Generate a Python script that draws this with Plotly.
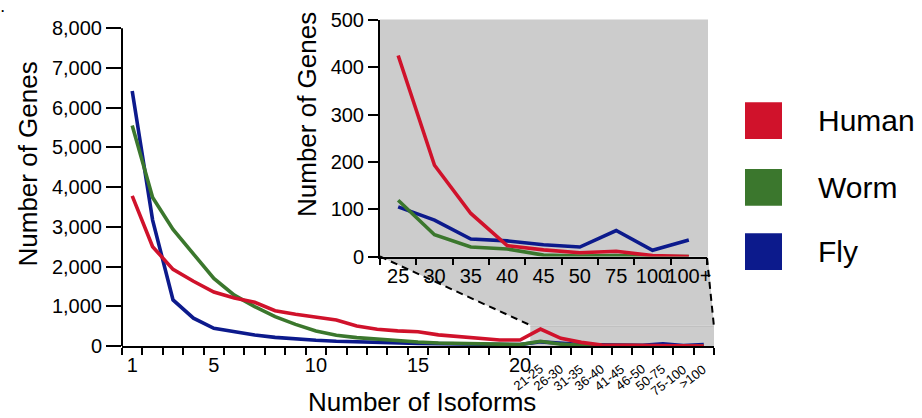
import plotly.graph_objects as go

# ---------------- data ----------------
categories = [str(i) for i in range(1, 21)] + [
    "21-25", "26-30", "31-35", "36-40", "41-45", "46-50", "50-75", "75-100", ">100"]
main_tick_text = ["1", "", "", "", "5", "", "", "", "", "10", "", "", "", "", "15",
                  "", "", "", "", "20"] + [""] * 9
range_labels = ["21-25", "26-30", "31-35", "36-40", "41-45", "46-50", "50-75", "75-100", ">100"]

human = [3780, 2500, 1930, 1630, 1360, 1210, 1100, 890, 800, 730, 655, 505, 420, 380, 360,
         280, 235, 210, 150, 150, 425, 193, 91, 23, 14, 8, 11, 2, 0]
worm = [5550, 3740, 2935, 2330, 1700, 1280, 990, 740, 545, 380, 270, 210, 170, 135, 100,
        75, 60, 50, 35, 35, 119, 46, 20, 16, 3, 1, 2, 0, 0]
fly = [6420, 3170, 1160, 700, 445, 360, 277, 218, 176, 143, 118, 100, 85, 75, 67,
       59, 50, 42, 38, 34, 105, 77, 37, 33, 25, 20, 55, 13, 35]

inset_labels = ["25", "30", "35", "40", "45", "50", "75", "100", "100+"]
human_inset = human[20:]
worm_inset = worm[20:]
fly_inset = fly[20:]

series_names = ["Human", "Worm", "Fly"]
colors = {"Human": "#d0122b", "Worm": "#3b772d", "Fly": "#0c1a8c"}

# ---------------- layout helpers ----------------
W_FIG, H_FIG = 922, 418
L, R, T, B = 122, 208, 20, 72
W = W_FIG - L - R
H = H_FIG - T - B
Y0 = H_FIG - B  # pixel row of main y = 0


def px(x):
    return (x - L) / W


def py(y):
    return (Y0 - y) / H


FONT = "Liberation Sans, Arial, Helvetica, sans-serif"
main_top = 8000 * H / (Y0 - 28.3)

fig = go.Figure()

order = [("Fly", fly, fly_inset), ("Worm", worm, worm_inset), ("Human", human, human_inset)]
for name, vals, ivals in order:
    fig.add_trace(go.Scatter(x=categories, y=vals, mode="lines", name=name,
                             line=dict(color=colors[name], width=3.6),
                             xaxis="x", yaxis="y", showlegend=False))
for name, vals, ivals in order:
    fig.add_trace(go.Scatter(x=inset_labels, y=ivals, mode="lines", name=name,
                             line=dict(color=colors[name], width=3.6),
                             xaxis="x2", yaxis="y2", showlegend=False))

axis_common = dict(showgrid=False, zeroline=False, linecolor="black", linewidth=2,
                   tickcolor="black", tickwidth=2, ticks="outside",
                   tickfont=dict(family=FONT, size=20, color="black"))

fig.update_layout(
    width=W_FIG, height=H_FIG,
    margin=dict(l=L, r=R, t=T, b=B, pad=0, autoexpand=False),
    paper_bgcolor="white", plot_bgcolor="rgba(0,0,0,0)",
    font=dict(family=FONT, color="black"),
    showlegend=False,
    xaxis=dict(axis_common, type="category", categoryorder="array", categoryarray=categories,
               range=[-0.5, len(categories) - 0.5], showline=True, ticklen=7,
               tickson="boundaries", tickmode="array", tickvals=categories,
               ticktext=main_tick_text, tickangle=0, anchor="y", domain=[0, 1]),
    yaxis=dict(axis_common, range=[0, main_top], showline=False, ticklen=15,
               tickmode="array", tickvals=[0, 1000, 2000, 3000, 4000, 5000, 6000, 7000, 8000],
               tickformat=",d", anchor="x", domain=[0, 1]),
    xaxis2=dict(axis_common, type="category", categoryorder="array", categoryarray=inset_labels,
                range=[-0.5, len(inset_labels) - 0.5], showline=True, ticklen=6,
                tickson="boundaries", tickangle=0, anchor="y2",
                domain=[px(380), px(707)]),
    yaxis2=dict(axis_common, range=[0, 500], dtick=100, showline=True, ticklen=10,
                anchor="x2", domain=[py(256.5), 1.0]),
)

shapes = []
gray = "#cccccc"
# inset background
shapes.append(dict(type="rect", xref="paper", yref="paper", layer="below",
                   x0=px(380), x1=px(708), y0=py(256.5), y1=py(19.5),
                   fillcolor=gray, line=dict(width=0)))
# trapezoid connecting inset to zoomed region
path = "M {:.5f},{:.5f} L {:.5f},{:.5f} L {:.5f},{:.5f} L {:.5f},{:.5f} Z".format(
    px(380), py(256.5), px(708), py(256.5), px(714), py(325.5), px(531), py(325.5))
shapes.append(dict(type="path", xref="paper", yref="paper", layer="below", path=path,
                   fillcolor=gray, line=dict(width=0)))
# zoomed region in main chart
shapes.append(dict(type="rect", xref="x", yref="y", layer="below",
                   x0=19.5, x1=28.5, y0=0, y1=500, fillcolor=gray, line=dict(width=0)))
shapes.append(dict(type="line", xref="x", yref="y", layer="below",
                   x0=19.5, x1=28.5, y0=500, y1=500, line=dict(color="#b3b3b3", width=1)))
# dashed connectors
shapes.append(dict(type="line", xref="paper", yref="paper",
                   x0=px(380), y0=py(256.5), x1=px(531), y1=py(325.5),
                   line=dict(color="black", width=2, dash="7px,5px")))
shapes.append(dict(type="line", xref="paper", yref="paper",
                   x0=px(707), y0=py(258), x1=px(714), y1=py(327),
                   line=dict(color="black", width=2, dash="7px,5px")))
# main y axis line (only up to 8000)
shapes.append(dict(type="line", xref="x domain", yref="y", x0=0, x1=0, y0=0, y1=8000,
                   line=dict(color="black", width=2)))
# legend swatches
for name, top in [("Human", 102.3), ("Worm", 169), ("Fly", 233.3)]:
    shapes.append(dict(type="rect", xref="paper", yref="paper",
                       x0=px(745), x1=px(782), y0=py(top + 36.7), y1=py(top),
                       fillcolor=colors[name], line=dict(width=0)))
fig.update_layout(shapes=shapes)

ann = []
# rotated range labels on main x axis
for lab in range_labels:
    ann.append(dict(x=lab, xref="x", y=py(359), yref="paper", text=lab, showarrow=False,
                    xanchor="right", yanchor="top", textangle=-38, xshift=8,
                    font=dict(family=FONT, size=13, color="black")))
# axis titles
ann.append(dict(x=px(27.5), y=py(164), xref="paper", yref="paper", text="Number of Genes",
                textangle=-90, showarrow=False, xanchor="center", yanchor="middle",
                font=dict(family=FONT, size=26, color="black")))
ann.append(dict(x=px(307), y=py(115), xref="paper", yref="paper", text="Number of Genes",
                textangle=-90, showarrow=False, xanchor="center", yanchor="middle",
                font=dict(family=FONT, size=26, color="black")))
ann.append(dict(x=px(422), y=py(402), xref="paper", yref="paper", text="Number of Isoforms",
                showarrow=False, xanchor="center", yanchor="middle",
                font=dict(family=FONT, size=26, color="black")))
# legend labels
for name, cy in [("Human", 120.5), ("Worm", 187.5), ("Fly", 251.5)]:
    ann.append(dict(x=px(816), y=py(cy), xref="paper", yref="paper", text=name,
                    showarrow=False, xanchor="left", yanchor="middle",
                    font=dict(family=FONT, size=30, color="black")))
# stray panel dot
ann.append(dict(x=px(0), y=py(0), xref="paper", yref="paper", text="<b>.</b>", showarrow=False,
                xanchor="left", yanchor="top", borderpad=0,
                font=dict(family=FONT, size=12, color="black")))
fig.update_layout(annotations=ann)

fig.write_html("out.html", config={"displayModeBar": False},
               post_script="document.body.style.margin='0';")
